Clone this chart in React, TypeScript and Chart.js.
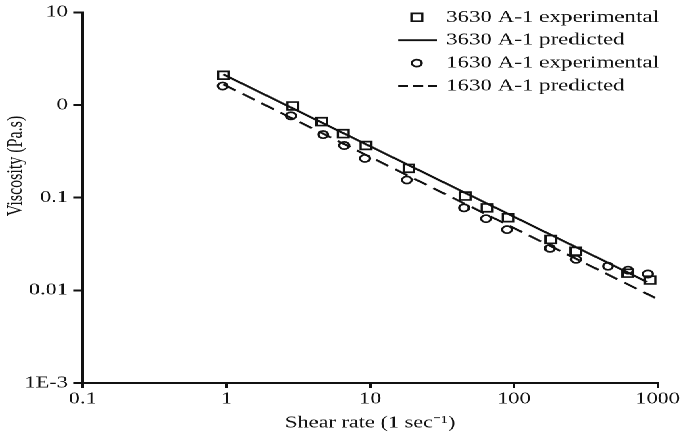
import React, { useEffect, useRef } from 'react';
import { Chart, registerables } from 'chart.js';

Chart.register(...registerables);

// ---- data ----
const seriesLabels = [
  '3630 A-1 experimental',
  '3630 A-1 predicted',
  '1630 A-1 experimental',
  '1630 A-1 predicted',
];

const shearRate3630 = [0.95, 2.9, 4.6, 6.5, 9.35, 18.6, 45.7, 65, 91, 181, 270, 621, 884];
const viscosity3630 = [2.09, 0.975, 0.66, 0.49, 0.365, 0.207, 0.104, 0.0776, 0.0607, 0.0354, 0.0264, 0.0153, 0.0129];

const shearRate1630 = [0.94, 2.81, 4.7, 6.6, 9.2, 18, 45, 64, 89.5, 178, 270, 451, 621, 855];
const viscosity1630 = [1.6, 0.763, 0.479, 0.365, 0.265, 0.155, 0.0776, 0.0593, 0.0452, 0.0284, 0.0216, 0.0182, 0.0165, 0.015];

const predictedShear3630 = [0.95, 843];
const predictedVisc3630 = [2.14, 0.0123];
const predictedShear1630 = [0.95, 958];
const predictedVisc1630 = [1.67, 0.0083];

const xTickValues = [0.1, 1, 10, 100, 1000];
const xTickLabels = ['0.1', '1', '10', '100', '1000'];
const yTickValues = [0.001, 0.01, 0.1, 1, 10];
const yTickLabels = ['1E-3', '0.01', '0.1', '0', '10'];

const xTitle = 'Shear rate (1 sec\u207B\u00B9)';
const yTitle = 'Viscosity (Pa.s)';

// ---- layout ----
const FULL_W = 685;
const H = 436;
const W = 507; // logical drawing width, stretched horizontally to FULL_W
const S = FULL_W / W;
const INK = '#111';
const FONT = '"Liberation Serif", "Times New Roman", serif';

const pts = (xs: number[], ys: number[]) => xs.map((x, i) => ({ x, y: ys[i] }));

const overlayPlugin = {
  id: 'overlay',
  afterDraw(chart: any) {
    const ctx = chart.ctx;
    // legend
    const rowY0 = 17.3;
    const rowGap = 22.9;
    const markX = 308.5;
    const lineX0 = 294.6;
    const lineX1 = 323.5;
    const textX = 330.1;
    chart.data.datasets.forEach((ds: any, i: number) => {
      const y = rowY0 + i * rowGap;
      ctx.save();
      ctx.strokeStyle = INK;
      if (ds.showLine) {
        ctx.lineWidth = 1.9;
        ctx.setLineDash(ds.legendDash || []);
        ctx.beginPath();
        ctx.moveTo(lineX0, y);
        ctx.lineTo(lineX1, y);
        ctx.stroke();
      } else {
        ctx.lineWidth = 1.7;
        ctx.setLineDash([]);
        ctx.beginPath();
        if (ds.pointStyle === 'rect') {
          ctx.rect(markX - 3.9, y - 3.9, 7.8, 7.8);
        } else {
          ctx.arc(markX, y, 3.5, 0, Math.PI * 2);
        }
        ctx.stroke();
      }
      ctx.setLineDash([]);
      ctx.fillStyle = INK;
      ctx.font = `17px ${FONT}`;
      ctx.textBaseline = 'middle';
      ctx.textAlign = 'left';
      ctx.fillText(ds.label, textX, y);
      ctx.restore();
    });
    // y axis title
    ctx.save();
    ctx.translate(11.8, 166);
    ctx.rotate(-Math.PI / 2);
    ctx.fillStyle = INK;
    ctx.font = `16px ${FONT}`;
    ctx.textAlign = 'center';
    ctx.textBaseline = 'middle';
    ctx.fillText(yTitle, 0, 0);
    ctx.restore();
  },
};

export default function App() {
  const canvasRef = useRef<HTMLCanvasElement | null>(null);

  useEffect(() => {
    if (!canvasRef.current) return;
    const chart = new Chart(canvasRef.current, {
      type: 'scatter',
      data: {
        datasets: [
          {
            label: seriesLabels[0],
            data: pts(shearRate3630, viscosity3630),
            showLine: false,
            pointStyle: 'rect',
            pointRadius: 5.5,
            pointBorderWidth: 1.7,
            pointBorderColor: INK,
            pointBackgroundColor: 'rgba(255,255,255,0)',
          },
          {
            label: seriesLabels[1],
            data: pts(predictedShear3630, predictedVisc3630),
            showLine: true,
            pointRadius: 0,
            borderColor: INK,
            borderWidth: 1.9,
          },
          {
            label: seriesLabels[2],
            data: pts(shearRate1630, viscosity1630),
            showLine: false,
            pointStyle: 'circle',
            pointRadius: 3.6,
            pointBorderWidth: 1.7,
            pointBorderColor: INK,
            pointBackgroundColor: 'rgba(255,255,255,0)',
          },
          {
            label: seriesLabels[3],
            data: pts(predictedShear1630, predictedVisc1630),
            showLine: true,
            pointRadius: 0,
            borderColor: INK,
            borderWidth: 1.9,
            borderDash: [11, 6],
            legendDash: [7.4, 3.7],
          } as any,
        ],
      },
      options: {
        animation: false,
        responsive: true,
        maintainAspectRatio: false,
        devicePixelRatio: 2,
        layout: { padding: { left: 0, top: 8.3, right: W - 657.7 / S, bottom: 0 } },
        plugins: {
          legend: { display: false },
          tooltip: { enabled: false },
        },
        scales: {
          x: {
            type: 'logarithmic',
            min: 0.1,
            max: 1000,
            afterBuildTicks: (scale: any) => {
              scale.ticks = xTickValues.map((v) => ({ value: v }));
            },
            afterFit: (scale: any) => {
              scale.height = H - 383;
            },
            ticks: {
              autoSkip: false,
              maxRotation: 0,
              padding: 3,
              color: INK,
              font: { family: FONT, size: 16.5, lineHeight: 1.0 },
              callback: (_v: any, i: number) => xTickLabels[i],
            },
            grid: {
              drawOnChartArea: false,
              drawTicks: true,
              tickLength: 5,
              color: INK,
              lineWidth: 2,
            },
            border: { display: true, color: INK, width: 2 },
            title: {
              display: true,
              text: xTitle,
              color: INK,
              font: { family: FONT, size: 16.5 },
              padding: { top: 0, bottom: 3 },
            },
          },
          y: {
            type: 'logarithmic',
            min: 0.001,
            max: 10,
            afterBuildTicks: (scale: any) => {
              scale.ticks = yTickValues.map((v) => ({ value: v }));
            },
            afterFit: (scale: any) => {
              scale.width = 82.7 / S;
            },
            ticks: {
              autoSkip: false,
              padding: 4,
              color: INK,
              font: { family: FONT, size: 16.5, lineHeight: 1.0 },
              callback: (_v: any, i: number) => yTickLabels[i],
            },
            grid: {
              drawOnChartArea: false,
              drawTicks: true,
              tickLength: 7,
              color: INK,
              lineWidth: 2,
            },
            border: { display: true, color: INK, width: 2 },
            title: { display: false },
          },
        },
      },
      plugins: [overlayPlugin],
    } as any);
    return () => chart.destroy();
  }, []);

  return (
    <div
      style={{
        position: 'absolute',
        left: 0,
        top: 0,
        width: W,
        height: H,
        transform: `scaleX(${S})`,
        transformOrigin: '0 0',
        background: '#fff',
      }}
    >
      <canvas ref={canvasRef} />
    </div>
  );
}
